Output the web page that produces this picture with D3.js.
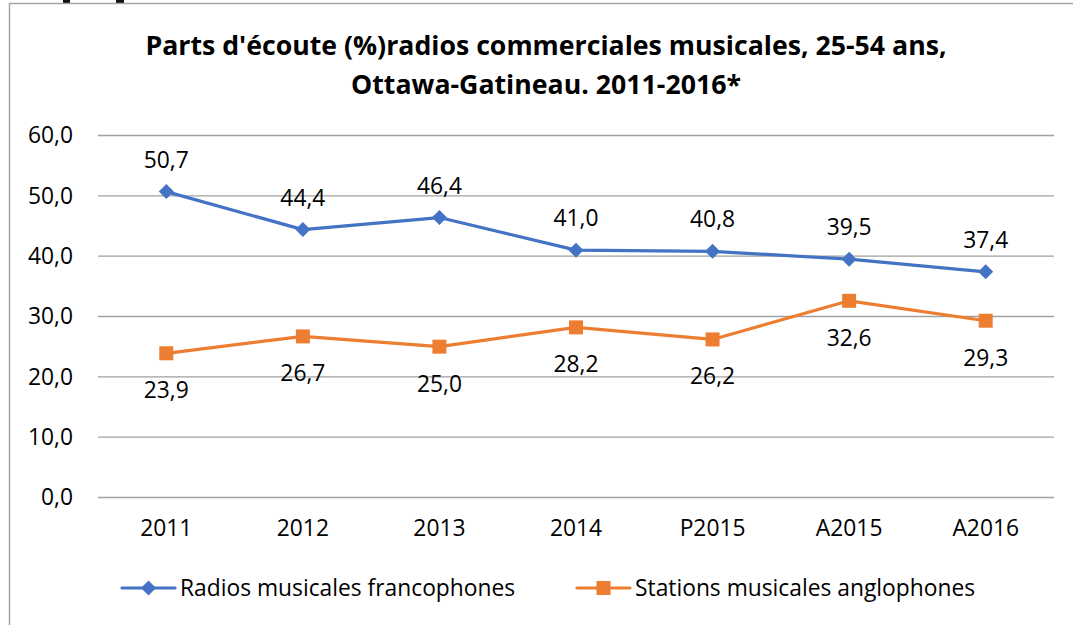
<!DOCTYPE html>
<html>
<head>
<meta charset="utf-8">
<script src="https://cdn.jsdelivr.net/npm/d3@7"></script>
<style>
  body { margin: 0; background: #fff; }
  text { font-family: "Open Sans", sans-serif; fill: #000; }
</style>
</head>
<body>
<div id="chart"></div>
<script>
// chart data
var categories = ["2011", "2012", "2013", "2014", "P2015", "A2015", "A2016"];
var francophones = [50.7, 44.4, 46.4, 41.0, 40.8, 39.5, 37.4];
var anglophones = [23.9, 26.7, 25.0, 28.2, 26.2, 32.6, 29.3];
var yTicks = [0, 10, 20, 30, 40, 50, 60];
var seriesNames = ["Radios musicales francophones", "Stations musicales anglophones"];

var W = 1073, H = 625;
var margin = {top: 135.5, right: 19, bottom: 127.5, left: 98};
var width = W - margin.left - margin.right;
var height = H - margin.top - margin.bottom;
var fontSize = "22.8px";

var svg = d3.select("#chart")
    .append("svg")
    .attr("width", W)
    .attr("height", H);

// descenders of the page text above the chart (cut by the page edge)
svg.append("g")
    .selectAll("rect")
    .data([[63, 7], [116, 8]])
    .enter().append("rect")
    .attr("x", function(d) { return d[0]; })
    .attr("y", 0)
    .attr("width", function(d) { return d[1]; })
    .attr("height", 3)
    .attr("fill", "#111");

// frame of the chart object
svg.append("path")
    .attr("d", "M9.5," + H + "V3.5H" + W)
    .attr("fill", "none")
    .attr("stroke", "#a6a6a6")
    .attr("stroke-width", 1.5);

// title
var title = svg.append("text")
    .attr("text-anchor", "middle")
    .style("font-weight", "bold")
    .style("font-size", "26.7px");
title.append("tspan").attr("x", 546).attr("y", 55)
    .text("Parts d'écoute (%)radios commerciales musicales, 25-54 ans,");
title.append("tspan").attr("x", 546).attr("y", 94)
    .text("Ottawa-Gatineau. 2011-2016*");

var g = svg.append("g")
    .attr("transform", "translate(" + margin.left + "," + margin.top + ")");

var x = d3.scaleBand()
    .domain(categories)
    .range([0, width]);

var y = d3.scaleLinear()
    .domain([0, 60])
    .range([height, 0]);

var fmt = function(d) { return d3.format(".1f")(d).replace(".", ","); };

// gridlines
g.append("g")
    .selectAll("line")
    .data(yTicks)
    .enter().append("line")
    .attr("x1", 0)
    .attr("x2", width)
    .attr("y1", function(d) { return y(d); })
    .attr("y2", function(d) { return y(d); })
    .attr("stroke", "#a0a0a0")
    .attr("stroke-width", 1.3);

// y axis labels
var yAxis = g.append("g")
    .call(d3.axisLeft(y).tickValues(yTicks).tickSize(0).tickPadding(25).tickFormat(fmt));
yAxis.select(".domain").remove();
yAxis.selectAll("text").style("font-size", fontSize).style("font-family", "'Open Sans', sans-serif").attr("fill", "#000");

// x axis labels
var xAxis = g.append("g")
    .attr("transform", "translate(0," + height + ")")
    .call(d3.axisBottom(x).tickSize(0).tickPadding(22));
xAxis.select(".domain").remove();
xAxis.selectAll("text").style("font-size", fontSize).style("font-family", "'Open Sans', sans-serif").attr("fill", "#000");

var line = d3.line()
    .x(function(d, i) { return x(categories[i]) + x.bandwidth() / 2; })
    .y(function(d) { return y(d); });

function drawSeries(data, color, marker, labelDy) {
    g.append("path")
        .datum(data)
        .attr("fill", "none")
        .attr("stroke", color)
        .attr("stroke-width", 3.2)
        .attr("stroke-linejoin", "round")
        .attr("d", line);

    g.append("g")
        .selectAll("path")
        .data(data)
        .enter().append("path")
        .attr("transform", function(d, i) {
            return "translate(" + (x(categories[i]) + x.bandwidth() / 2) + "," + y(d) + ")";
        })
        .attr("d", marker)
        .attr("fill", color);

    g.append("g")
        .selectAll("text")
        .data(data)
        .enter().append("text")
        .attr("x", function(d, i) { return x(categories[i]) + x.bandwidth() / 2; })
        .attr("y", function(d) { return y(d) + labelDy; })
        .attr("text-anchor", "middle")
        .style("font-size", fontSize)
        .text(fmt);
}

var diamond = "M0,-7.5L7.5,0L0,7.5L-7.5,0Z";
var square = "M-7,-7H7V7H-7Z";

drawSeries(francophones, "#4472c4", diamond, -24);
drawSeries(anglophones, "#ed7d31", square, 45);

// legend
var legendItems = [
    {name: seriesNames[0], color: "#4472c4", marker: diamond, x: 122},
    {name: seriesNames[1], color: "#ed7d31", marker: square, x: 577}
];
var legend = svg.append("g").attr("transform", "translate(0,588)");
legendItems.forEach(function(d) {
    legend.append("line")
        .attr("x1", d.x).attr("x2", d.x + 53)
        .attr("stroke", d.color)
        .attr("stroke-width", 3.2)
        .attr("stroke-linecap", "round");
    legend.append("path")
        .attr("transform", "translate(" + (d.x + 26.5) + ",0)")
        .attr("d", d.marker)
        .attr("fill", d.color);
    legend.append("text")
        .attr("x", d.x + 58)
        .attr("y", 8)
        .style("font-size", fontSize)
        .text(d.name);
});
</script>
</body>
</html>
